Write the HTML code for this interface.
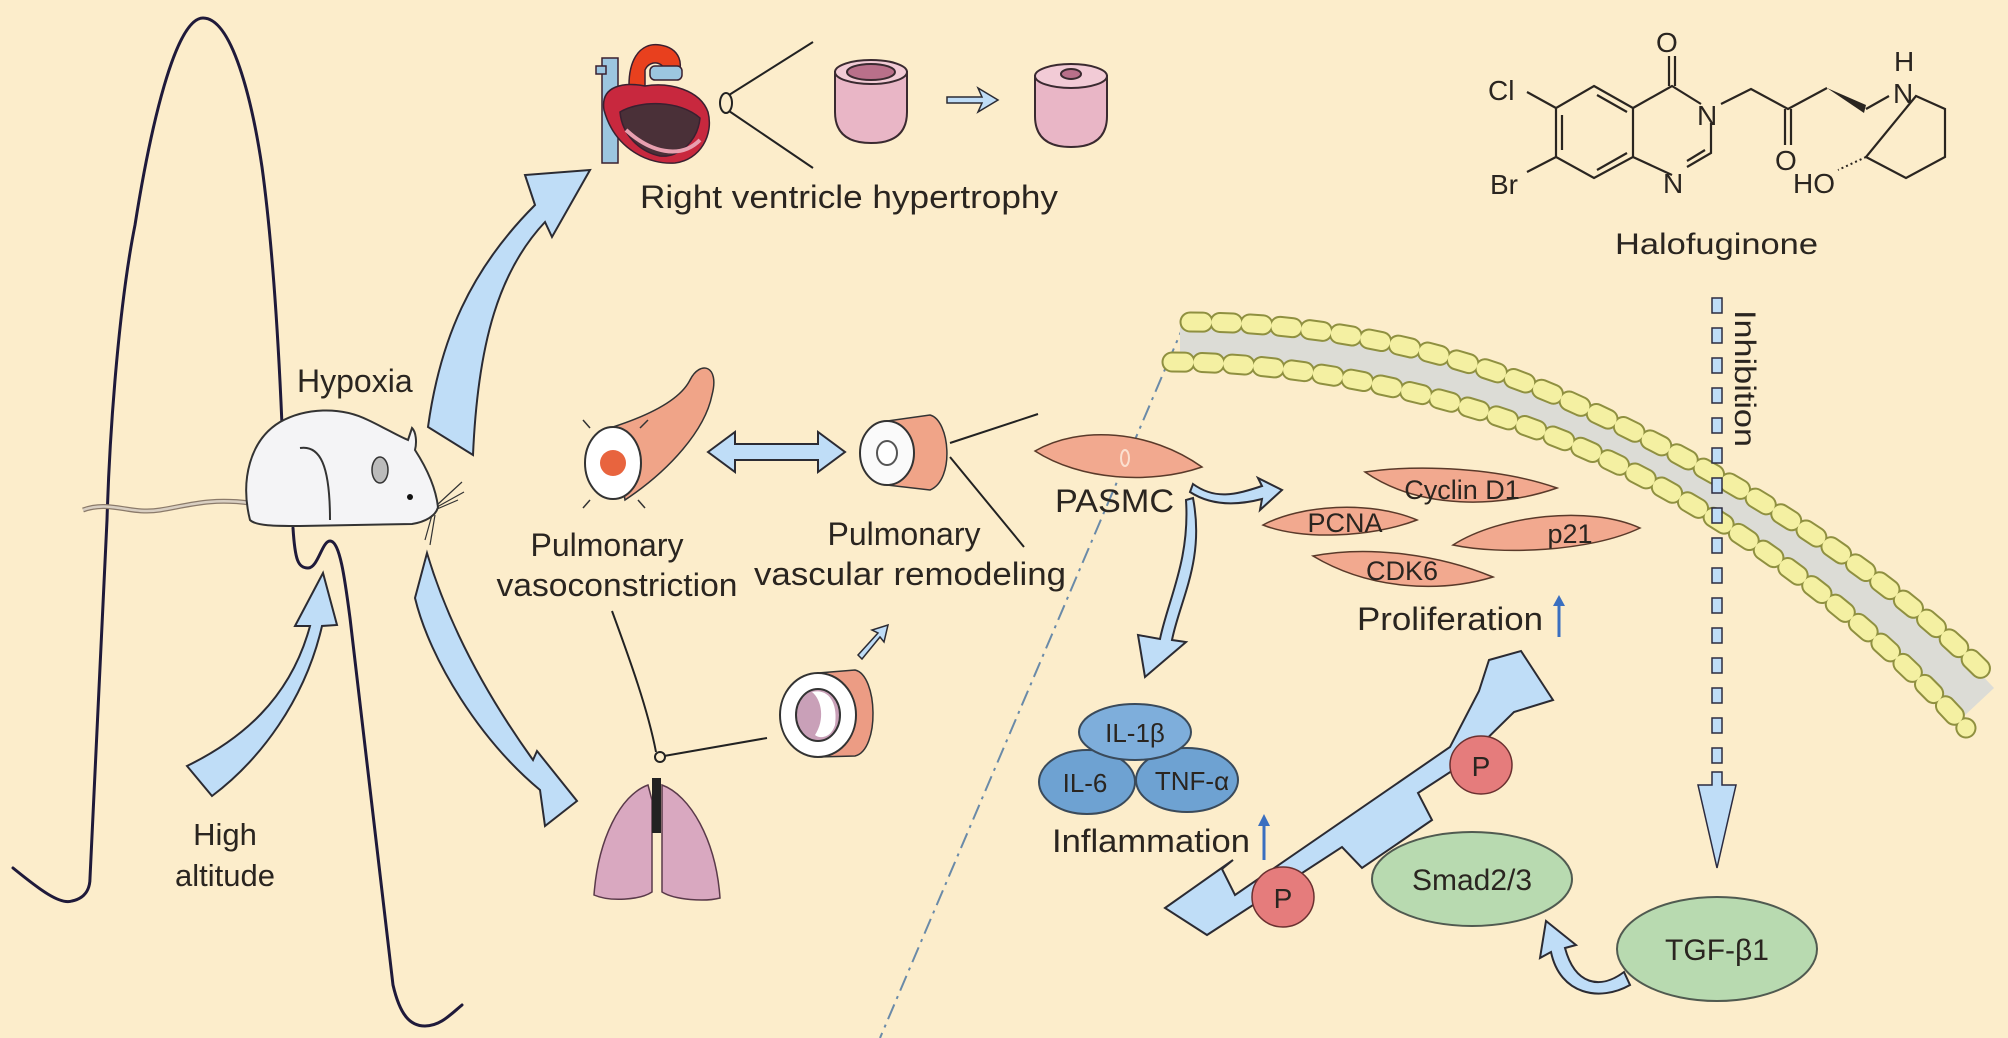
<!DOCTYPE html>
<html><head><meta charset="utf-8"><style>
html,body{margin:0;padding:0;background:#FCEDCB;}
svg{display:block}
text{font-family:"Liberation Sans",Arial,sans-serif;fill:#2a2520}
</style></head><body>
<svg width="2008" height="1038" viewBox="0 0 2008 1038" xmlns="http://www.w3.org/2000/svg">
<rect width="2008" height="1038" fill="#FCEDCB"/>

<g fill="none" stroke="#1f1a3a" stroke-width="3" stroke-linecap="round">
<path d="M13,868 C40,890 60,905 72,901 C86,898 90,888 90,878 L107,520 C110,420 120,300 135,225 C150,130 175,18 203,18 C232,18 252,100 262,167 C272,240 278,330 282,425"/>
<path d="M293,528 C295,560 298,568 308,568 C318,568 322,541 330,541 C340,541 345,580 350,618 L393,985 C400,1015 410,1026 425,1026 C440,1026 450,1015 462,1005"/>
</g>

<path d="M83,510 C110,500 130,515 160,510 C190,505 210,498 250,503" fill="none" stroke="#8a7a6a" stroke-width="5"/>
<path d="M83,510 C110,500 130,515 160,510 C190,505 210,498 250,503" fill="none" stroke="#d9cfc2" stroke-width="2.5"/>
<path d="M250,520 C240,480 250,440 280,422 C305,408 340,406 368,420 C385,428 398,436 408,440 L412,428 C416,432 417,442 415,450 C428,470 436,490 438,507 C436,516 425,522 412,524 L300,526 C275,526 256,526 250,520 Z" fill="#f4f4f6" stroke="#333" stroke-width="2"/>
<path d="M300,448 C320,445 330,465 330,520" fill="none" stroke="#333" stroke-width="2"/>
<ellipse cx="380" cy="470" rx="8" ry="13" fill="#bbb" stroke="#333" stroke-width="1.5"/>
<circle cx="410" cy="497" r="3" fill="#111"/>
<path d="M437,505 L462,482 M437,507 L464,492 M437,509 L458,500 M432,515 L425,540 M435,515 L430,545" stroke="#333" stroke-width="1.2"/>
<text x="297" y="392" font-size="32">Hypoxia</text>

<g fill="#BFDDF7" stroke="#2b2b33" stroke-width="2" stroke-linejoin="miter">
<path d="M428,427 C440,340 470,270 535,205 L525,175 L590,170 L552,237 L545,222 C500,270 478,340 473,455 Z"/>
<path d="M187,766 C240,740 290,700 310,626 L295,626 L323,573 L337,625 L322,626 C305,700 260,760 212,796 Z"/>
<path d="M427,553 C450,630 490,700 533,760 L537,751 L577,801 L545,826 L540,790 C480,740 430,660 415,598 Z"/>
<path d="M708,452 L735,432 L735,444 L818,444 L818,432 L845,452 L818,472 L818,460 L735,460 L735,472 Z"/>
<path d="M947,97 L982,97 L978,88 L998,100 L978,112 L982,103 L947,103 Z" stroke-width="1.5"/>
<path d="M858,655 L878,633 L872,630 L888,625 L884,642 L880,637 L862,659 Z" stroke-width="1.5"/>
<path d="M1193,484 C1215,500 1235,495 1262,486 L1258,478 L1282,490 L1260,510 L1262,499 C1235,506 1210,505 1190,492 Z"/>
<path d="M1193,498 C1205,560 1180,600 1172,640 L1186,642 L1145,677 L1138,635 L1160,639 C1168,600 1190,560 1186,500 Z"/>
<path d="M1165,908 L1233,860 L1222,869 L1235,895 L1450,747 L1479,691 L1489,660 L1521,651 L1553,700 L1514,712 L1458,767 L1418,793 L1432,820 L1362,868 L1342,847 L1207,935 Z"/>
<path d="M1624,972 C1600,990 1575,985 1565,948 L1576,945 L1546,921 L1540,958 L1551,952 C1560,995 1600,1002 1630,985 Z"/>
</g>

<text x="225" y="845" font-size="31" text-anchor="middle">High</text>
<text x="225" y="886" font-size="31" text-anchor="middle">altitude</text>

<g stroke="#3a2030" stroke-width="1.5">
<rect x="602" y="58" width="16" height="105" fill="#9cc6e0"/>
<rect x="596" y="66" width="10" height="8" fill="#9cc6e0"/>
<path d="M630,100 C625,60 640,42 660,45 C680,48 685,65 676,78 L664,76 C668,62 650,58 645,70 L645,100 Z" fill="#e8401e"/>
<rect x="650" y="66" width="32" height="14" rx="5" fill="#9cc6e0"/>
<path d="M604,110 C600,85 625,82 645,86 C670,82 700,90 708,112 C714,135 700,160 675,163 C650,165 615,150 604,110 Z" fill="#c8283e"/>
<path d="M620,112 C640,100 680,100 700,118 C698,140 680,158 660,156 C640,152 622,135 620,112 Z" fill="#4a3038"/>
<path d="M626,130 C650,152 680,160 700,140" fill="none" stroke="#e8a0b0" stroke-width="4"/>
</g>
<ellipse cx="726" cy="103" rx="6" ry="10" fill="none" stroke="#222" stroke-width="2"/>
<path d="M729,95 L813,42 M729,111 L813,168" stroke="#222" stroke-width="2" fill="none"/>
<g stroke="#3a2a30" stroke-width="2">
<path d="M835,72 L835,112 C835,135 850,143 871,143 C892,143 907,135 907,112 L907,72 Z" fill="#e9b6c6"/>
<ellipse cx="871" cy="72" rx="36" ry="12" fill="#f2cbd6"/>
<ellipse cx="871" cy="72" rx="24" ry="8" fill="#b9708a"/>
<path d="M1035,76 L1035,116 C1035,139 1050,147 1071,147 C1092,147 1107,139 1107,116 L1107,76 Z" fill="#e9b6c6"/>
<ellipse cx="1071" cy="76" rx="36" ry="12" fill="#f2cbd6"/>
<ellipse cx="1071" cy="74" rx="10" ry="5" fill="#b9708a"/>
</g>
<text x="640" y="208" font-size="32" textLength="418" lengthAdjust="spacingAndGlyphs">Right ventricle hypertrophy</text>

<path d="M613,427 C650,415 680,400 690,380 C700,360 720,365 712,395 C705,430 670,470 625,500 Z" fill="#f0a488" stroke="#333" stroke-width="1.5"/>
<ellipse cx="613" cy="463" rx="28" ry="36" fill="#fff" stroke="#333" stroke-width="2"/>
<circle cx="613" cy="463" r="13" fill="#e8643e"/>
<g stroke="#333" stroke-width="1.5">
<path d="M583,420 L590,428 M648,420 L640,428 M583,508 L590,500 M645,508 L638,500"/>
</g>
<text x="607" y="556" font-size="32" text-anchor="middle">Pulmonary</text>
<text x="617" y="596" font-size="32" text-anchor="middle" textLength="241" lengthAdjust="spacingAndGlyphs">vasoconstriction</text>

<path d="M887,421 L930,415 C950,420 955,480 930,490 L887,485 Z" fill="#f0a488" stroke="#333" stroke-width="1.5"/>
<ellipse cx="887" cy="453" rx="27" ry="32" fill="#fafafa" stroke="#333" stroke-width="2"/>
<ellipse cx="887" cy="453" rx="10" ry="12" fill="#fff" stroke="#555" stroke-width="2"/>
<path d="M950,443 L1038,414 M950,457 L1024,547" stroke="#222" stroke-width="2" fill="none"/>
<text x="904" y="545" font-size="32" text-anchor="middle">Pulmonary</text>
<text x="910" y="585" font-size="32" text-anchor="middle" textLength="312" lengthAdjust="spacingAndGlyphs">vascular remodeling</text>

<path d="M612,611 C630,660 648,710 656,752 M664,756 L767,738" stroke="#222" stroke-width="2" fill="none"/>
<circle cx="660" cy="757" r="5" fill="none" stroke="#222" stroke-width="2"/>
<path d="M818,673 L855,670 C878,675 880,750 855,756 L818,757 Z" fill="#ec9c84" stroke="#333" stroke-width="1.5"/>
<ellipse cx="818" cy="715" rx="38" ry="42" fill="#fff" stroke="#333" stroke-width="2"/>
<ellipse cx="818" cy="715" rx="22" ry="26" fill="#c9a0b8" stroke="#333" stroke-width="2"/>
<path d="M812,692 C830,688 838,705 835,725 C830,740 818,738 815,735 C825,720 822,700 812,692 Z" fill="#fff"/>
<path d="M648,785 C620,795 598,840 594,895 C610,902 640,900 652,892 L652,800 Z" fill="#d9a8c0" stroke="#5a3a4a" stroke-width="1.5"/>
<path d="M662,785 C690,795 716,840 720,898 C705,902 675,900 662,892 L662,800 Z" fill="#d9a8c0" stroke="#5a3a4a" stroke-width="1.5"/>
<rect x="652" y="778" width="9" height="55" fill="#222"/>

<path d="M1186,320 L880,1038" stroke="#6a8aa8" stroke-width="2" stroke-dasharray="16 6 3 6" fill="none"/>

<path d="M1180,342 C1310,342 1455,371 1580,427 C1720,489 1870,588 1978,703" fill="none" stroke="#dcdcd6" stroke-width="44"/>
<g fill="none" stroke-dasharray="13 17" stroke-linecap="round">
<path d="M1190,322 C1320,322 1460,350 1580,406 C1720,470 1880,565 1990,678" stroke="#8f9040" stroke-width="21"/>
<path d="M1190,322 C1320,322 1460,350 1580,406 C1720,470 1880,565 1990,678" stroke="#F4F0A2" stroke-width="17"/>
<path d="M1172,362 C1300,362 1450,392 1580,447 C1720,508 1860,610 1966,728" stroke="#8f9040" stroke-width="21"/>
<path d="M1172,362 C1300,362 1450,392 1580,447 C1720,508 1860,610 1966,728" stroke="#F4F0A2" stroke-width="17"/>
</g>

<path d="M1035,451 C1080,425 1150,430 1202,467 C1150,485 1080,480 1035,451 Z" fill="#F2A98F" stroke="#5a3a2a" stroke-width="1.5"/>
<ellipse cx="1125" cy="458" rx="4" ry="8" fill="none" stroke="#fbe0d0" stroke-width="2"/>
<text x="1055" y="512" font-size="32" textLength="119" lengthAdjust="spacingAndGlyphs">PASMC</text>

<g fill="#F2A98F" stroke="#5a3a2a" stroke-width="1.5">
<path d="M1365,472 C1420,464 1500,468 1557,488 C1500,508 1420,510 1365,472 Z"/>
<path d="M1263,525 C1300,505 1370,500 1417,520 C1370,538 1300,540 1263,525 Z"/>
<path d="M1453,545 C1500,515 1590,505 1640,528 C1590,552 1500,555 1453,545 Z"/>
<path d="M1313,556 C1370,545 1440,555 1493,577 C1440,593 1370,590 1313,556 Z"/>
</g>
<g font-size="27" text-anchor="middle">
<text x="1462" y="499">Cyclin D1</text>
<text x="1345" y="532">PCNA</text>
<text x="1570" y="543">p21</text>
<text x="1402" y="580">CDK6</text>
</g>
<text x="1357" y="630" font-size="32" textLength="186" lengthAdjust="spacingAndGlyphs">Proliferation</text>
<path d="M1559,637 L1559,604" stroke="#3a6fc0" stroke-width="3"/>
<path d="M1553,606 L1559,595 L1565,606 Z" fill="#3a6fc0"/>

<g stroke="#3a4a5a" stroke-width="2">
<ellipse cx="1087" cy="782" rx="48" ry="32" fill="#6ea2d2"/>
<ellipse cx="1187" cy="780" rx="51" ry="32" fill="#6ea2d2"/>
<ellipse cx="1135" cy="732" rx="56" ry="28" fill="#7eaedb"/>
</g>
<g font-size="26" text-anchor="middle" fill="#1a2a40">
<text x="1135" y="742">IL-1β</text>
<text x="1085" y="792">IL-6</text>
<text x="1192" y="790">TNF-α</text>
</g>
<text x="1052" y="852" font-size="32" textLength="198" lengthAdjust="spacingAndGlyphs">Inflammation</text>
<path d="M1264,860 L1264,824" stroke="#3a6fc0" stroke-width="3"/>
<path d="M1258,826 L1264,814 L1270,826 Z" fill="#3a6fc0"/>

<g fill="#E57C7C" stroke="#6a3030" stroke-width="1.5">
<ellipse cx="1481" cy="765" rx="31" ry="29"/>
<ellipse cx="1283" cy="897" rx="31" ry="30"/>
</g>
<text x="1481" y="776" font-size="28" text-anchor="middle">P</text>
<text x="1283" y="908" font-size="28" text-anchor="middle">P</text>

<g fill="#B8DAB0" stroke="#505a50" stroke-width="2">
<ellipse cx="1472" cy="879" rx="100" ry="47"/>
<ellipse cx="1717" cy="949" rx="100" ry="52"/>
</g>
<text x="1472" y="890" font-size="30" text-anchor="middle">Smad2/3</text>
<text x="1717" y="960" font-size="30" text-anchor="middle">TGF-β1</text>

<g fill="#BFDDF7" stroke="#2b2b40" stroke-width="1.5">
<rect x="1712" y="298" width="10" height="15"/><rect x="1712" y="328" width="10" height="15"/>
<rect x="1712" y="358" width="10" height="15"/><rect x="1712" y="388" width="10" height="15"/>
<rect x="1712" y="418" width="10" height="15"/><rect x="1712" y="448" width="10" height="15"/>
<rect x="1712" y="478" width="10" height="15"/><rect x="1712" y="508" width="10" height="15"/>
<rect x="1712" y="538" width="10" height="15"/><rect x="1712" y="568" width="10" height="15"/>
<rect x="1712" y="598" width="10" height="15"/><rect x="1712" y="628" width="10" height="15"/>
<rect x="1712" y="658" width="10" height="15"/><rect x="1712" y="688" width="10" height="15"/>
<rect x="1712" y="718" width="10" height="15"/><rect x="1712" y="748" width="10" height="15"/>
<path d="M1712,772 L1722,772 L1722,785 L1736,785 L1717,868 L1698,785 L1712,785 Z"/>
</g>
<text x="0" y="0" font-size="30" transform="translate(1735,310) rotate(90)" textLength="137" lengthAdjust="spacingAndGlyphs">Inhibition</text>

<g stroke="#2a2520" stroke-width="2.2" fill="none">
<path d="M1594,86 L1633,108 L1633,157 L1594,178 L1556,157 L1556,108 Z"/>
<path d="M1597,95 L1627,112 M1627,153 L1597,170 M1562,115 L1562,150"/>
<path d="M1633,108 L1672,86 L1701,104 M1711,123 L1711,153 L1687,167 M1672,175 L1633,157"/>
<path d="M1705,150 L1687,161"/>
<path d="M1669,86 L1669,56 M1675,86 L1675,56"/>
<path d="M1556,108 L1527,92 M1556,157 L1527,172"/>
<path d="M1721,104 L1751,89 L1788,109 L1827,88"/>
<path d="M1785,109 L1785,145 M1791,109 L1791,145"/>
<path d="M1866,109 L1889,96 M1916,96 L1945,109 L1945,157 L1906,178 L1866,157 Z"/>
</g>
<path d="M1827,88 L1866,105 L1864,113 Z" fill="#2a2520"/>
<path d="M1866,157 L1838,170" stroke="#2a2520" stroke-width="2" stroke-dasharray="2 3"/>
<g font-size="28">
<text x="1656" y="52">O</text>
<text x="1488" y="100">Cl</text>
<text x="1490" y="194">Br</text>
<text x="1697" y="125">N</text>
<text x="1663" y="193">N</text>
<text x="1775" y="170">O</text>
<text x="1793" y="193">HO</text>
<text x="1893" y="103">N</text>
<text x="1894" y="71">H</text>
</g>
<text x="1615" y="254" font-size="30" textLength="203" lengthAdjust="spacingAndGlyphs">Halofuginone</text>
</svg>
</body></html>
